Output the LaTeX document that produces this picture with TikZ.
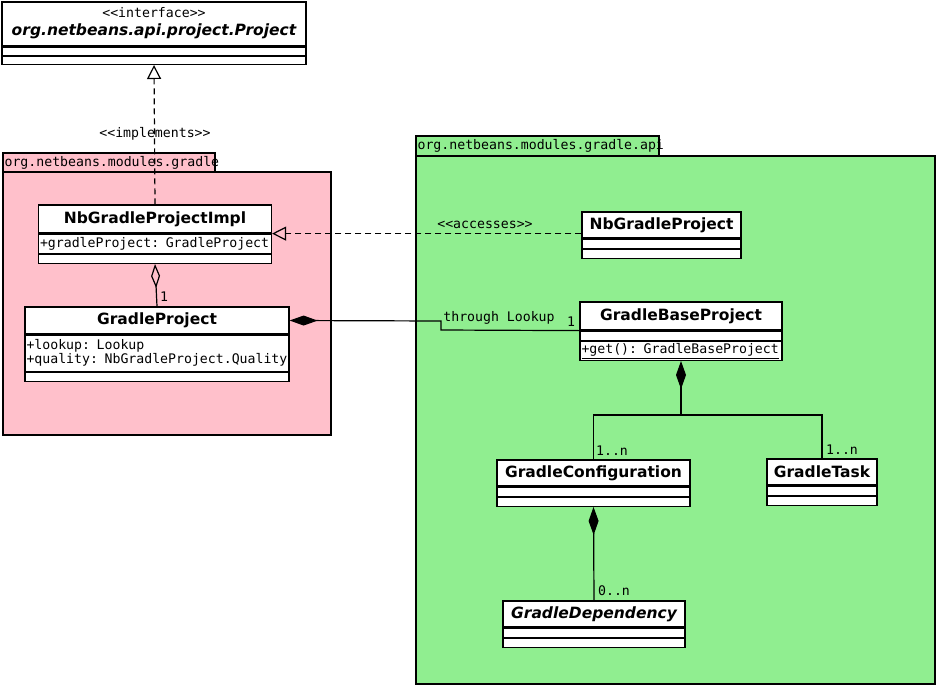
\documentclass[tikz,border=0pt]{standalone}
\usepackage{fontspec}
\setmainfont{DejaVu Sans}
\newfontfamily\monof{DejaVu Sans Mono}
\usetikzlibrary{positioning,arrows.meta}
\definecolor{pkgpink}{RGB}{255,192,203}
\definecolor{pkggreen}{RGB}{144,238,144}

\begin{document}
\begin{tikzpicture}[x=1pt,y=-1pt,line width=1.2pt,
    pkg/.style={draw,fill=#1},
    cname/.style={draw,fill=white,inner sep=0pt,font=\fontsize{15.5}{17}\bfseries},
    comp/.style={draw,fill=white,inner sep=1.5pt,align=left,minimum width=#1,text width=#1-3pt,
      font=\monof\fontsize{13.2}{14}\selectfont},
    lbl/.style={font=\monof\fontsize{13.2}{14}\selectfont,inner sep=1pt},
    realize/.style={dashed,dash pattern=on 6pt off 4pt,-{Triangle[open,length=14pt,width=14pt]}},
    aggr/.style={{Diamond[open,length=24pt,width=9pt]}-},
    compo/.style={{Diamond[length=28pt,width=10pt]}-}]
  \useasboundingbox (0,0) rectangle (936,685);
  % packages
  \draw[pkg=pkgpink] (3,153) rectangle (215,172);
  \draw[pkg=pkgpink] (3,172) rectangle (331,435);
  \node[lbl,anchor=west] (pg) at (3,162.5) {org.netbeans.modules.gradle};
  \draw[pkg=pkggreen] (416,136) rectangle (659,156);
  \draw[pkg=pkggreen] (416,156) rectangle (935,684);
  \node[lbl,anchor=west] (pa) at (416,146) {org.netbeans.modules.gradle.api};
  % interface
  \node[draw,fill=white,minimum width=304pt,minimum height=44pt,inner sep=0pt] (ifc) at (154,24) {};
  \node[lbl] (ifc-s) at (154,13) {<<interface>>};
  \node[font=\fontsize{15.5}{17}\bfseries\itshape,inner sep=0pt] (ifc-n) at (154,31) {org.netbeans.api.project.Project};
  \node[comp=304pt,minimum height=8pt,below=0pt of ifc] (ifc-a) {};
  \node[comp=304pt,minimum height=8pt,below=0pt of ifc-a] (ifc-o) {};
  % classes
  \node[cname,minimum width=233pt,minimum height=28pt] (impl) at (155,219) {NbGradleProjectImpl};
  \node[comp=233pt,minimum height=19pt,below=0pt of impl] (impl-a) {+gradleProject: GradleProject};
  \node[comp=233pt,minimum height=9pt,below=0pt of impl-a] (impl-o) {};
  \node[cname,minimum width=264pt,minimum height=27pt] (gp) at (157,320.5) {GradleProject};
  \node[comp=264pt,minimum height=36pt,below=0pt of gp] (gp-a) {+lookup: Lookup\\+quality: NbGradleProject.Quality};
  \node[comp=264pt,minimum height=9pt,below=0pt of gp-a] (gp-o) {};
  \node[cname,minimum width=159pt,minimum height=26pt] (nbp) at (661.5,225) {NbGradleProject};
  \node[comp=159pt,minimum height=9pt,below=0pt of nbp] (nbp-a) {};
  \node[comp=159pt,minimum height=9pt,below=0pt of nbp-a] (nbp-o) {};
  \node[cname,minimum width=202pt,minimum height=28pt] (gbp) at (681,316) {GradleBaseProject};
  \node[comp=202pt,minimum height=9pt,below=0pt of gbp] (gbp-a) {};
  \node[comp=202pt,minimum height=19pt,below=0pt of gbp-a] (gbp-o) {\underline{+get(): GradleBaseProject}};
  \node[cname,minimum width=193pt,minimum height=26pt] (gc) at (593.5,473) {GradleConfiguration};
  \node[comp=193pt,minimum height=9pt,below=0pt of gc] (gc-a) {};
  \node[comp=193pt,minimum height=9pt,below=0pt of gc-a] (gc-o) {};
  \node[cname,minimum width=110pt,minimum height=26pt] (gt) at (822,472) {GradleTask};
  \node[comp=110pt,minimum height=9pt,below=0pt of gt] (gt-a) {};
  \node[comp=110pt,minimum height=9pt,below=0pt of gt-a] (gt-o) {};
  \node[cname,minimum width=182pt,minimum height=26pt,font=\fontsize{15.5}{17}\bfseries\itshape] (gd) at (594,614) {GradleDependency};
  \node[comp=182pt,minimum height=9pt,below=0pt of gd] (gd-a) {};
  \node[comp=182pt,minimum height=9pt,below=0pt of gd-a] (gd-o) {};
  % relations
  \draw[realize] (impl.north) -- (ifc-o.south);
  \node[lbl] at (155,134) {<<implements>>};
  \coordinate (acc) at (impl.south east);
  \draw[realize] (nbp.west |- acc) -- (acc);
  \node[lbl] at (485,225) {<<accesses>>};
  \draw[aggr] (impl-o.south) -- (gp.north);
  \node[lbl] at (164,297) {1};
  \draw[compo] (gp.east) -- (441,321) -- (441,330) -- (gbp.south west);
  \node[lbl] at (499,318) {through Lookup};
  \node[lbl] at (571,322) {1};
  \coordinate (fork) at (681,415);
  \draw[compo] (gbp-o.south) -- (fork) -| (gc.north);
  \draw (fork) -| (gt.north);
  \node[lbl] at (612,451) {1..n};
  \node[lbl] at (842,450) {1..n};
  \draw[compo] (gc-o.south) -- (gd.north);
  \node[lbl] at (614,591) {0..n};
\end{tikzpicture}
\end{document}
